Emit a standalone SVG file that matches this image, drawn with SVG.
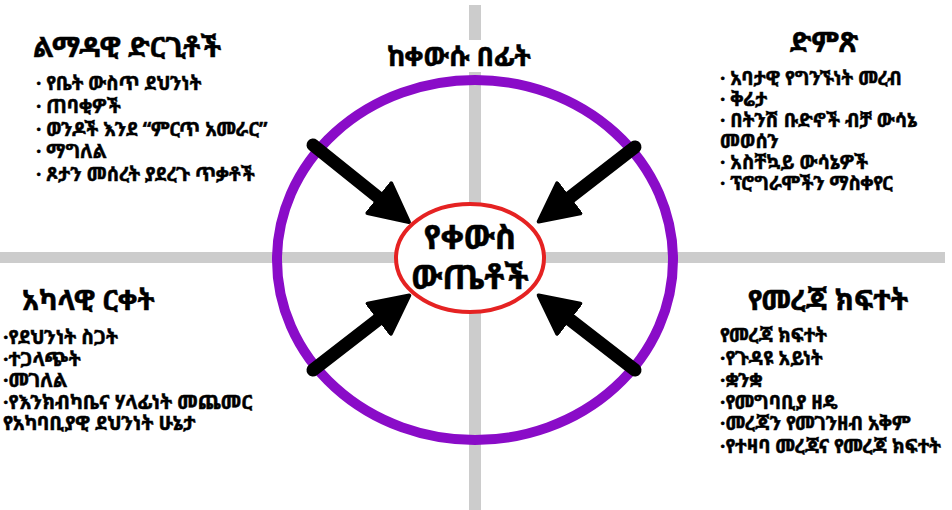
<svg xmlns="http://www.w3.org/2000/svg" width="952" height="510" viewBox="0 0 952 510">
<defs>
<style>
text{font-family:"Noto Sans Ethiopic","Noto Sans","DejaVu Sans",sans-serif;font-weight:bold;fill:#000;stroke:#000;stroke-width:0.5}
.h{font-size:28px}
.b{font-size:19px}
.bl{font-size:19.5px}
.c{font-size:33px}
.axis{fill:#cccccc}
.arrow{stroke:#000;stroke-width:13;stroke-linecap:round;fill:none}
</style>
<marker id="ah" markerUnits="userSpaceOnUse" markerWidth="46" markerHeight="46" refX="8" refY="23" orient="auto" viewBox="0 0 46 46">
<path d="M2,4 L40,23 L2,42 Z" fill="#000" stroke="#000" stroke-width="4" stroke-linejoin="round"/>
</marker>
</defs>
<rect width="952" height="510" fill="#fff"/>
<g id="axes">
<rect class="axis" x="469" y="5" width="12" height="505"/>
<rect class="axis" x="0" y="252" width="945" height="11"/>
</g>
<g id="outer-ellipse">
<ellipse cx="475" cy="260" rx="198" ry="180" fill="none" stroke="#8a0cc8" stroke-width="10"/>
</g>
<g id="connectors">
<path class="arrow" d="M313,145 L384,202" marker-end="url(#ah)"/>
<path class="arrow" d="M635,147 L564,202" marker-end="url(#ah)"/>
<path class="arrow" d="M313,370 L384,315" marker-end="url(#ah)"/>
<path class="arrow" d="M635,370 L564,315" marker-end="url(#ah)"/>
</g>
<g id="center">
<ellipse cx="470" cy="258" rx="74" ry="54" fill="#fff" stroke="#e52222" stroke-width="4"/>
<text class="c" x="470" y="249" text-anchor="middle">የቀውስ</text>
<text class="c" x="470" y="289" text-anchor="middle">ውጤቶች</text>
</g>
<g id="before-crisis">
<rect x="385" y="40" width="152" height="32" fill="#fff"/>
<text class="h" x="459" y="66" text-anchor="middle" style="font-size:27px">ከቀውሱ በፊት</text>
</g>
<g id="top-left">
<text class="h" x="33" y="57">ልማዳዊ ድርጊቶች</text>
<text class="b" x="36" y="90">· የቤት ውስጥ ደህንነት</text>
<text class="b" x="36" y="113">· ጠባቂዎች</text>
<text class="b" x="36" y="136">· ወንዶች እንደ “ምርጥ አመራር”</text>
<text class="b" x="36" y="158">· ማግለል</text>
<text class="b" x="36" y="181">· ጾታን መሰረት ያደረጉ ጥቃቶች</text>
</g>
<g id="top-right">
<text class="h" x="824" y="52" text-anchor="middle">ድምጽ</text>
<text class="b" x="720" y="85">· አባታዊ የግንኙነት መረብ</text>
<text class="b" x="720" y="106">· ቅሬታ</text>
<text class="b" x="720" y="127">· በትንሽ ቡድኖች ብቻ ውሳኔ</text>
<text class="b" x="720" y="148">መወሰን</text>
<text class="b" x="720" y="169">· አስቸኳይ ውሳኔዎች</text>
<text class="b" x="720" y="190">· ፕሮግራሞችን ማስቀየር</text>
</g>
<g id="bottom-left">
<text class="h" x="22" y="310">አካላዊ ርቀት</text>
<text class="bl" x="3" y="344">·የደህንነት ስጋት</text>
<text class="bl" x="3" y="366">·ተጋላጭት</text>
<text class="bl" x="3" y="387">·መገለል</text>
<text class="bl" x="3" y="409">·የእንክብካቤና ሃላፊነት መጨመር</text>
<text class="bl" x="3" y="430">የአካባቢያዊ  ደህንነት ሁኔታ</text>
</g>
<g id="bottom-right">
<text class="h" x="828" y="310" text-anchor="middle" style="font-size:28.5px">የመረጃ ክፍተት</text>
<text class="b" x="720" y="342">የመረጃ ክፍተት</text>
<text class="b" x="720" y="365">·የጉዳዩ አይነት</text>
<text class="b" x="720" y="387">·ቋንቋ</text>
<text class="b" x="720" y="409">·የመግባቢያ ዘዴ</text>
<text class="b" x="720" y="430">·መረጃን የመገንዘብ አቅም</text>
<text class="b" x="720" y="453">·የተዛባ መረጃና የመረጃ ክፍተት</text>
</g>
</svg>
